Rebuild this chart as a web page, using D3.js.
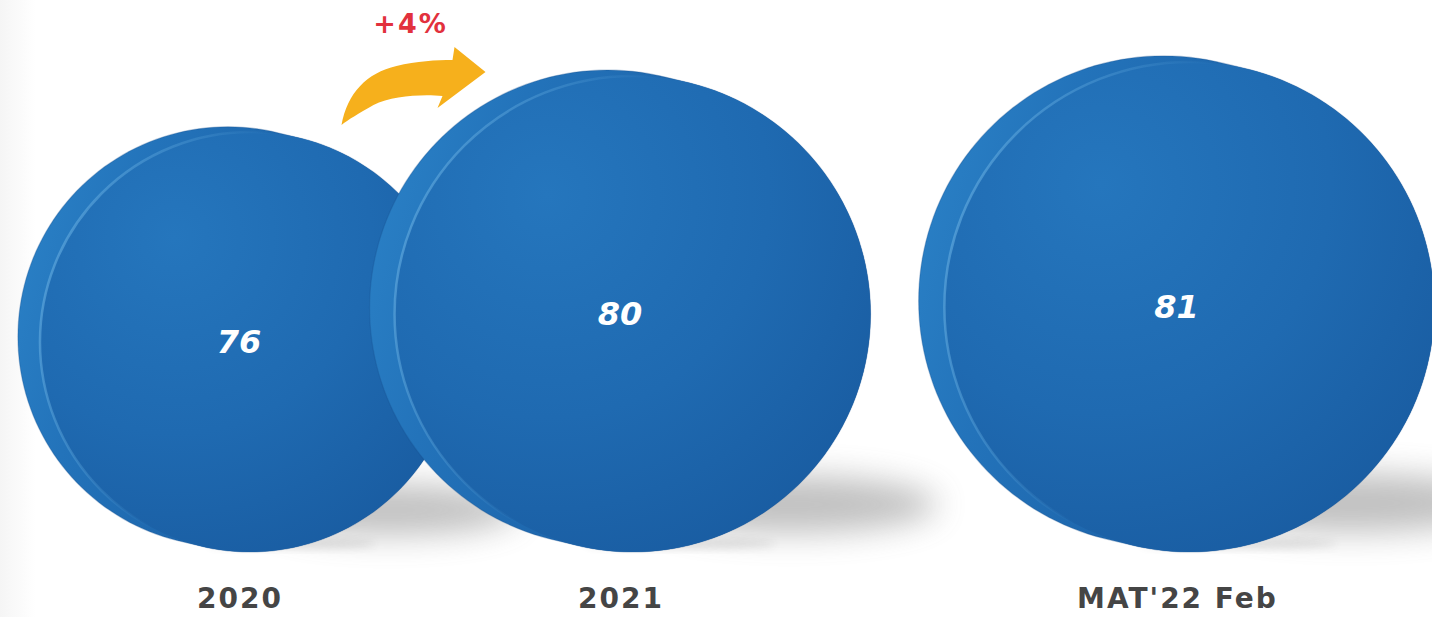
<!DOCTYPE html>
<html>
<head>
<meta charset="utf-8">
<script src="https://cdn.jsdelivr.net/npm/d3@7"></script>
<style>
  html, body { margin: 0; padding: 0; background: #fff; overflow: hidden; }
</style>
</head>
<body>
<div id="chart"></div>
<script>
const width = 1432;
const height = 617;
const floorY = 552;

// data
const categories = ["2020", "2021", "MAT'22 Feb"];
const values = [76, 80, 81];
const groupOf = ["comparison", "comparison", "current"];
const changeLabel = "+4%";

const labelColor = "#454545";
const changeColor = "#e2313d";
const arrowColor = "#f6b01c";

var svg = d3.select("#chart").append("svg")
    .attr("width", width)
    .attr("height", height);

var defs = svg.append("defs");

// very faint grey fade on the left edge, like the original slide
var bg = defs.append("linearGradient").attr("id", "bg").attr("x1", 0).attr("x2", 1);
bg.append("stop").attr("offset", 0).attr("stop-color", "#f5f5f5");
bg.append("stop").attr("offset", 0.025).attr("stop-color", "#ffffff");
svg.append("rect").attr("width", width).attr("height", height).attr("fill", "url(#bg)");

var face = defs.append("radialGradient").attr("id", "face")
    .attr("cx", "32%").attr("cy", "25%").attr("r", "85%");
face.append("stop").attr("offset", 0).attr("stop-color", "#2576bd");
face.append("stop").attr("offset", 0.55).attr("stop-color", "#1f6ab1");
face.append("stop").attr("offset", 1).attr("stop-color", "#195ca1");

var rim = defs.append("linearGradient").attr("id", "rim")
    .attr("x1", 0).attr("y1", 0).attr("x2", 1).attr("y2", 0.3);
rim.append("stop").attr("offset", 0).attr("stop-color", "#2c84c9");
rim.append("stop").attr("offset", 0.3).attr("stop-color", "#2373ba");
rim.append("stop").attr("offset", 1).attr("stop-color", "#17569b");

var shine = defs.append("linearGradient").attr("id", "shine")
    .attr("x1", 0).attr("y1", 0.2).attr("x2", 1).attr("y2", 0.5);
shine.append("stop").attr("offset", 0).attr("stop-color", "#5fa8dd").attr("stop-opacity", 0.75);
shine.append("stop").attr("offset", 0.25).attr("stop-color", "#5fa8dd").attr("stop-opacity", 0.35);
shine.append("stop").attr("offset", 0.45).attr("stop-color", "#5fa8dd").attr("stop-opacity", 0);

defs.append("filter").attr("id", "blur").attr("x", "-50%").attr("y", "-80%").attr("width", "200%").attr("height", "260%")
    .append("feGaussianBlur").attr("stdDeviation", 16);
defs.append("filter").attr("id", "blurSmall").attr("x", "-50%").attr("y", "-50%").attr("width", "200%").attr("height", "200%")
    .append("feGaussianBlur").attr("stdDeviation", 4);

// scales: the first two periods form the compared pair, MAT sits on its own
var groupScale = d3.scaleBand()
    .domain(["comparison", "current"])
    .range([56, 1550]);

var innerScale = {};
groupScale.domain().forEach(function (g) {
    var members = categories.filter(function (c, i) { return groupOf[i] === g; });
    innerScale[g] = d3.scalePoint()
        .domain(members)
        .range([0, groupScale.bandwidth()])
        .padding(members.length > 1 ? 0.48 : 0.5);
});

function xPos(i) {
    var g = groupOf[i];
    return groupScale(g) + innerScale[g](categories[i]);
}

var rScale = d3.scaleLinear()
    .domain(d3.extent(values))
    .range([210, 245]);

function ellipsePoints(cx, cy, rx, ry, n) {
    return d3.range(n).map(function (k) {
        var a = k / n * 2 * Math.PI;
        return [cx + rx * Math.cos(a), cy + ry * Math.sin(a)];
    });
}

var outline = d3.line().curve(d3.curveLinearClosed);

var coins = values.map(function (v, i) {
    var r = rScale(v);
    var d = r * 0.105;
    var x = xPos(i);
    return {
        category: categories[i],
        value: v,
        r: r,
        x: x,
        fx: x + d / 2,
        fy: floorY - r,
        bx: x - d / 2,
        by: floorY - r - r * 0.025
    };
});

coins.forEach(function (c) {
    var g = svg.append("g").attr("class", "coin");

    // soft band of shadow on the floor, to the right of the coin
    g.append("ellipse")
        .attr("cx", c.fx + c.r * 0.66)
        .attr("cy", floorY - c.r * 0.2)
        .attr("rx", c.r * 0.62)
        .attr("ry", c.r * 0.12)
        .attr("fill", "#6a6a6a")
        .attr("opacity", 0.42)
        .attr("filter", "url(#blur)");
    g.append("ellipse")
        .attr("cx", c.fx + c.r * 0.2)
        .attr("cy", floorY - 8)
        .attr("rx", c.r * 0.4)
        .attr("ry", 5)
        .attr("fill", "#444")
        .attr("opacity", 0.15)
        .attr("filter", "url(#blurSmall)");

    // side of the coin
    var hull = d3.polygonHull(
        ellipsePoints(c.bx, c.by, c.r, c.r, 180).concat(ellipsePoints(c.fx, c.fy, c.r, c.r, 180))
    );
    g.append("path")
        .attr("d", outline(hull))
        .attr("fill", "url(#rim)")
        .attr("stroke", "#17508f")
        .attr("stroke-opacity", 0.3)
        .attr("stroke-width", 1.2);

    // front face
    g.append("ellipse")
        .attr("cx", c.fx)
        .attr("cy", c.fy)
        .attr("rx", c.r)
        .attr("ry", c.r)
        .attr("fill", "url(#face)")
        .attr("stroke", "url(#shine)")
        .attr("stroke-width", 2.5);

    g.append("text")
        .attr("x", c.x)
        .attr("y", c.fy)
        .attr("dy", "0.35em")
        .attr("text-anchor", "middle")
        .attr("fill", "#ffffff")
        .style("font-family", "'DejaVu Sans', sans-serif")
        .style("font-weight", "bold")
        .style("font-style", "italic")
        .style("font-size", "32px")
        .text(c.value);
});

// category labels under the coins
svg.selectAll(".cat-label")
    .data(coins)
    .enter()
    .append("text")
    .attr("class", "cat-label")
    .attr("x", function (d) { return d.x + 1; })
    .attr("y", 598)
    .attr("dy", "0.35em")
    .attr("text-anchor", "middle")
    .attr("fill", labelColor)
    .style("font-family", "'DejaVu Sans', sans-serif")
    .style("font-weight", "bold")
    .style("font-size", "28px")
    .style("letter-spacing", "2px")
    .text(function (d) { return d.category; });

// growth arrow between the first two coins
var mid = (coins[0].x + coins[1].x) / 2;
var tailX = mid - 88;
var tailY = floorY - 2 * coins[0].r - 7;

svg.append("path")
    .attr("transform", "translate(" + tailX + "," + tailY + ")")
    .attr("d", "M0,0 C6,-32 25,-52 55,-59 C75,-64 95,-65 111,-65 L113,-78 L144,-53 L96,-17 L101,-29 C80,-31 50,-29 32,-20 C18,-12 6,-5 0,0 Z")
    .attr("fill", arrowColor);

svg.append("text")
    .attr("x", mid - 19)
    .attr("y", floorY - 2 * coins[1].r - 52)
    .attr("dy", "0.35em")
    .attr("text-anchor", "middle")
    .attr("fill", changeColor)
    .style("font-family", "'DejaVu Sans', sans-serif")
    .style("font-weight", "bold")
    .style("font-size", "27px")
    .style("letter-spacing", "2px")
    .text(changeLabel);
</script>
</body>
</html>
